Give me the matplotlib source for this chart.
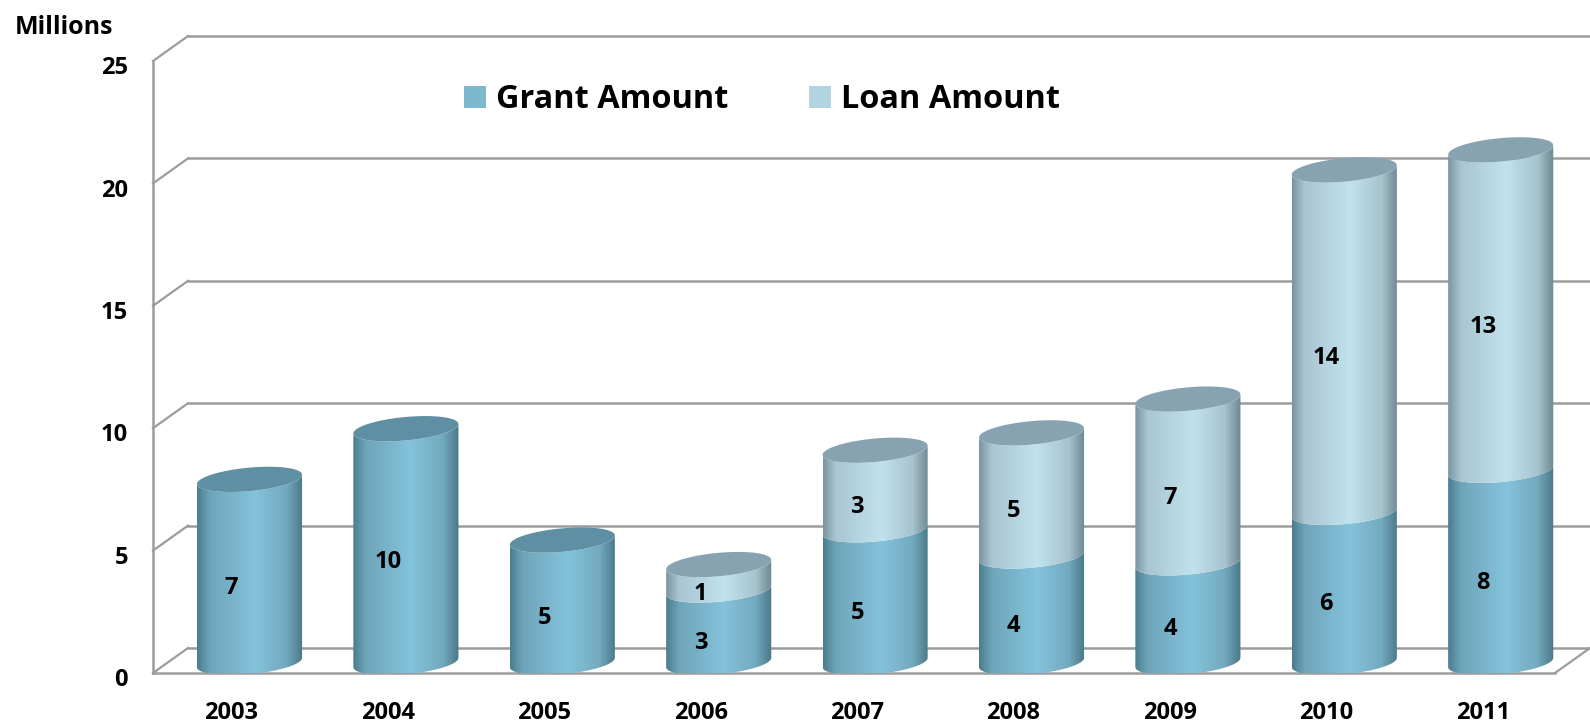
## Import Required Libraries
import matplotlib
matplotlib.use("Agg")
import matplotlib.pyplot as plt
import numpy as np
from matplotlib.patches import Patch, Polygon
from matplotlib.transforms import ScaledTranslation

# Chart Data (millions)
years = ["2003", "2004", "2005", "2006", "2007", "2008", "2009", "2010", "2011"]
grant_amount = [7.48, 9.55, 5.0, 2.96, 5.42, 4.35, 4.07, 6.13, 7.85]
loan_amount = [0, 0, 0, 1.04, 3.25, 5.03, 6.69, 13.99, 13.09]
grant_labels = ["7", "10", "5", "3", "5", "4", "4", "6", "8"]
loan_labels = ["", "", "", "1", "3", "5", "7", "14", "13"]
y_ticks = [0, 5, 10, 15, 20, 25]

# Shading of the cylinders, left to right
stops = [0.0, 0.12, 0.55, 0.85, 1.0]
grant_shade = ["#4b7d8f", "#6fa5b9", "#84c3dc", "#73a9bd", "#4a7989"]
loan_shade = ["#7b96a3", "#a9c6d2", "#c1e2ed", "#a6c3ce", "#6f8893"]
grant_cap = "#5f8fa3"
loan_cap = "#87a3b2"
wall_color = "#9c9c9c"

plt.rcParams["font.family"] = ["Open Sans", "DejaVu Sans"]

# Create Figure, the axes sit on the front plane of the 3D box
fig = plt.figure(figsize=(15.9, 7.25), dpi=100)
ax = fig.add_axes([153 / 1590, 52 / 725, 1437 / 1590, 612 / 725])
x_left, x_right = -96.5 / 156.4, 1340.5 / 156.4

# Size of the 3D effect in data units
depth_x, depth_y = 35 / 156.4, 1.02
half_w = 0.336
ell_b, ell_tilt = 0.48, 0.19
base = 0.43
label_shift_x, label_shift_y = -0.115, -0.68


def arc(cx, cy, t0, t1):
    t = np.linspace(t0, t1, 60)
    return np.column_stack([cx + half_w * np.cos(t),
                            cy + ell_b * np.sin(t) + ell_tilt * np.cos(t)])


def gradient(colors):
    rgb = np.array([matplotlib.colors.to_rgb(c) for c in colors])
    pos = np.linspace(0, 1, 128)
    return np.stack([np.interp(pos, stops, rgb[:, i]) for i in range(3)], axis=1)[None, :, :]


def draw_segment(cx, y0, y1, colors):
    # Body between two front arcs, painted with a gradient clipped to the outline
    outline = Polygon(np.vstack([arc(cx, y0, np.pi, 2 * np.pi), arc(cx, y1, 0, -np.pi)]),
                      closed=True, transform=ax.transData)
    im = ax.imshow(gradient(colors), extent=(cx - half_w, cx + half_w, y0 - 1, y1 + 1),
                   aspect="auto", interpolation="bilinear", zorder=3)
    im.set_clip_path(outline)


# Draw the back wall, side wall and floor
for v in y_ticks:
    ax.plot([x_left, x_left + depth_x], [v, v + depth_y], color=wall_color, lw=1.6,
            clip_on=False, zorder=1)
    ax.plot([x_left + depth_x, x_right], [v + depth_y, v + depth_y], color=wall_color,
            lw=1.8, clip_on=False, zorder=1)
floor_end = (1555 - 249.5) / 156.4
ax.plot([floor_end, floor_end + depth_x], [0, depth_y], color=wall_color, lw=1.6, zorder=1)

# Draw the cylinders
for i, (grant, loan) in enumerate(zip(grant_amount, loan_amount)):
    top = base + grant
    draw_segment(i, base, top, grant_shade)
    ax.text(i + label_shift_x, base + grant / 2 + label_shift_y, grant_labels[i], fontsize=17,
            fontweight="bold", ha="center", va="center", color="black", zorder=5)
    cap_color = grant_cap
    if loan > 0:
        draw_segment(i, top, top + loan, loan_shade)
        ax.text(i + label_shift_x, top + loan / 2 + label_shift_y, loan_labels[i], fontsize=17,
                fontweight="bold", ha="center", va="center", color="black", zorder=5)
        top += loan
        cap_color = loan_cap
    ax.add_patch(Polygon(arc(i, top, 0, 2 * np.pi), closed=True, facecolor=cap_color,
                         edgecolor="none", zorder=4))

# Axes, ticks and spines
ax.set_xlim(x_left, x_right)
ax.set_ylim(0, 25)
ax.set_xticks([i + label_shift_x for i in range(len(years))])
ax.set_xticklabels(years, fontsize=17, fontweight="bold")
ax.set_yticks(y_ticks)
ax.set_yticklabels([str(v) for v in y_ticks], fontsize=17, fontweight="bold")
ax.tick_params(axis="x", length=0, pad=20)
ax.tick_params(axis="y", length=0, pad=18)
for label in ax.get_yticklabels():
    label.set_transform(label.get_transform() + ScaledTranslation(0, -3 / 72, fig.dpi_scale_trans))
for side in ["top", "right"]:
    ax.spines[side].set_visible(False)
for side in ["left", "bottom"]:
    ax.spines[side].set_color(wall_color)
    ax.spines[side].set_linewidth(1.8)
ax.spines["bottom"].set_bounds(x_left, floor_end)

# Legend
handles = [Patch(facecolor="#7cb9cf", label="Grant Amount"),
           Patch(facecolor="#b2d4e0", label="Loan Amount")]
fig.legend(handles=handles, ncol=2, frameon=False, prop={"size": 23.4, "weight": "bold"},
           handlelength=0.66, handleheight=0.66, handletextpad=0.3, columnspacing=2.5,
           loc="center", bbox_to_anchor=(762 / 1590, 1 - 100 / 725))

# Unit label
fig.text(15 / 1590, 1 - 27 / 725, "Millions", fontsize=18, fontweight="bold",
         ha="left", va="center")

# Save Chart
plt.savefig("out.png", dpi=100)
